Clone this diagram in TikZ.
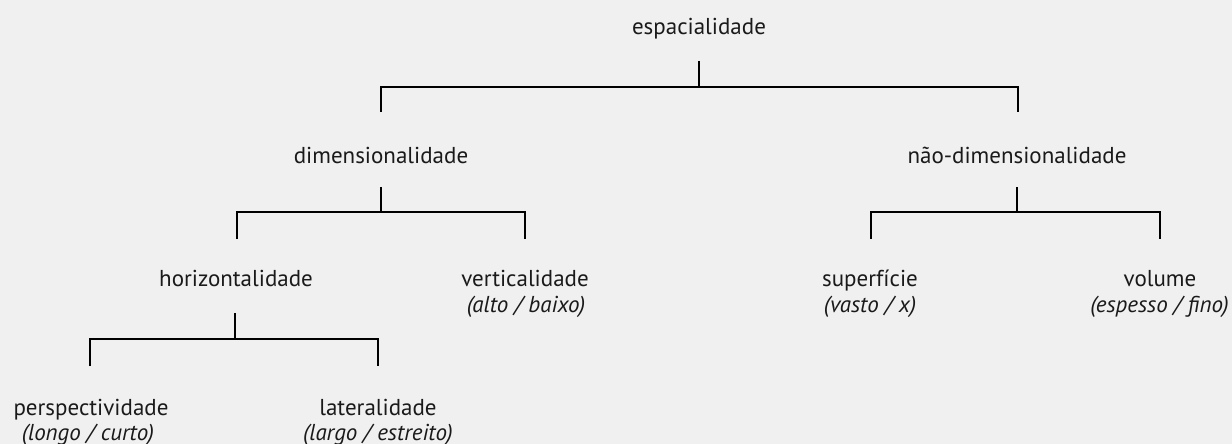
\documentclass[tikz,border=0pt]{standalone}
\usepackage{fontspec}
\setmainfont{PT Sans}
\definecolor{bg}{HTML}{F0F0F0}
\definecolor{txt}{HTML}{1A1A1A}
\begin{document}
\begin{tikzpicture}[x=1pt,y=-1pt,
  lbl/.style={inner sep=0pt,text=txt,font=\fontsize{23}{26}\selectfont,anchor=base},
  sub/.style={inner sep=0pt,text=txt,font=\fontsize{23}{26}\selectfont\itshape,anchor=base},
  br/.style={line width=1.8pt,line cap=butt,line join=miter}]
\fill[bg] (0,0) rectangle (1232,444);
\useasboundingbox (0,0) rectangle (1232,444);
% labels
\node[lbl] (esp) at (699,34.7) {espacialidade};
\node[lbl] (dim) at (381,163.3) {dimensionalidade};
\node[lbl] (ndim) at (1017,163.3) {não-dimensionalidade};
\node[lbl] (hor) at (236,286.5) {horizontalidade};
\node[lbl] (ver) at (525,286.5) {verticalidade};
\node[sub] (vers) at (526,312.5) {(alto / baixo)};
\node[lbl] (sup) at (870,286.5) {superfície};
\node[sub] (sups) at (870,312.5) {(vasto / x)};
\node[lbl] (vol) at (1160,286.5) {volume};
\node[sub] (vols) at (1159.5,312.5) {(espesso / fino)};
\node[lbl] (per) at (91,415) {perspectividade};
\node[sub] (pers) at (88,440) {(longo / curto)};
\node[lbl] (lat) at (378,415) {lateralidade};
\node[sub] (lats) at (378,440) {(largo / estreito)};
% brackets
\coordinate (t1) at (699,61);
\coordinate (b1) at (699,87);
\draw[br] (t1) -- (b1);
\draw[br] (381,112) |- (b1) -| (1018,112);
\coordinate (t2) at (381,187);
\coordinate (b2) at (381,212);
\draw[br] (t2) -- (b2);
\draw[br] (237,239) |- (b2) -| (525,239);
\coordinate (t3) at (1017,187);
\coordinate (b3) at (1017,212);
\draw[br] (t3) -- (b3);
\draw[br] (871,239) |- (b3) -| (1160,239);
\coordinate (t4) at (235,313);
\coordinate (b4) at (235,339);
\draw[br] (t4) -- (b4);
\draw[br] (90,366) |- (b4) -| (378,366);
\end{tikzpicture}
\end{document}
